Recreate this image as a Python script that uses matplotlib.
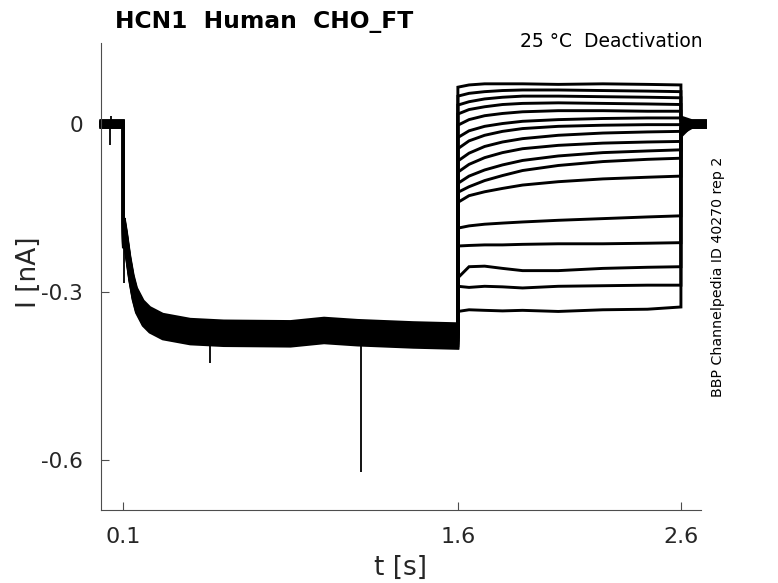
import matplotlib
matplotlib.use("Agg")
import matplotlib.pyplot as plt

# ---------------- data ----------------
title = "HCN1  Human  CHO_FT"
subtitle = "25 °C  Deactivation"
side_note = "BBP Channelpedia ID 40270 rep 2"

x_ticks = [0.1, 1.6, 2.6]
x_ticklabels = ["0.1", "1.6", "2.6"]
y_ticks = [-0.6, -0.3, 0.0]
y_ticklabels = ["-0.6", "-0.3", "0"]

# holding period (s) and per-sweep baseline offsets (nA)
hold_t = [0.0, 0.1]
hold_offset = [0.006, -0.004, 0.002, -0.006, 0.004, 0.0, -0.002, 0.005, -0.005,
               0.003, -0.003, 0.001, -0.001, 0.006, -0.006, 0.002, -0.002]

# conditioning (hyperpolarising) step, shared mean current (nA)
cond_t = [0.1, 0.1005, 0.104, 0.114, 0.129, 0.144, 0.159, 0.189, 0.219, 0.277,
          0.40, 0.55, 0.85, 1.0, 1.15, 1.4, 1.6]
cond_i = [-0.19, -0.20, -0.19, -0.215, -0.258, -0.292, -0.315, -0.338, -0.350, -0.362,
          -0.371, -0.374, -0.375, -0.369, -0.373, -0.377, -0.379]
cond_offset = [0.014, -0.008, 0.022, -0.017, 0.005, -0.022, 0.011, -0.003, 0.017,
               -0.014, 0.002, -0.020, 0.019, -0.006, 0.008, -0.011, -0.0005]

# test pulses (deactivation), one list per sweep (nA)
test_t = [1.6, 1.65, 1.72, 1.8, 1.89, 2.05, 2.25, 2.45, 2.6]
test_i = [
    [0.066, 0.070, 0.072, 0.072, 0.072, 0.071, 0.072, 0.071, 0.070],
    [0.050, 0.055, 0.058, 0.060, 0.061, 0.061, 0.060, 0.059, 0.058],
    [0.034, 0.040, 0.045, 0.048, 0.050, 0.050, 0.049, 0.048, 0.047],
    [0.018, 0.026, 0.031, 0.035, 0.037, 0.038, 0.037, 0.036, 0.035],
    [-0.002, 0.008, 0.015, 0.019, 0.022, 0.024, 0.024, 0.023, 0.023],
    [-0.024, -0.012, -0.004, 0.001, 0.005, 0.008, 0.010, 0.011, 0.011],
    [-0.044, -0.030, -0.020, -0.013, -0.008, -0.004, -0.002, -0.001, -0.001],
    [-0.066, -0.052, -0.040, -0.032, -0.026, -0.020, -0.016, -0.014, -0.013],
    [-0.086, -0.072, -0.060, -0.051, -0.044, -0.038, -0.034, -0.032, -0.031],
    [-0.106, -0.093, -0.082, -0.073, -0.065, -0.057, -0.051, -0.048, -0.046],
    [-0.122, -0.112, -0.101, -0.092, -0.083, -0.074, -0.067, -0.063, -0.061],
    [-0.140, -0.128, -0.121, -0.115, -0.109, -0.103, -0.098, -0.095, -0.093],
    [-0.186, -0.182, -0.179, -0.177, -0.175, -0.172, -0.169, -0.166, -0.164],
    [-0.218, -0.217, -0.216, -0.216, -0.215, -0.214, -0.214, -0.213, -0.212],
    [-0.275, -0.255, -0.254, -0.258, -0.262, -0.262, -0.258, -0.256, -0.255],
    [-0.290, -0.292, -0.290, -0.291, -0.293, -0.290, -0.289, -0.288, -0.288],
    [-0.335, -0.332, -0.333, -0.334, -0.333, -0.335, -0.332, -0.331, -0.327],
]

# return to holding potential
tail_t = [2.6, 2.605, 2.65, 2.71]
tail_start = [0.012, 0.010, 0.008, 0.006, 0.004, 0.002, 0.0, -0.002, -0.004,
              -0.006, -0.008, -0.010, -0.012, -0.014, -0.016, -0.018, -0.020]

# isolated artefact spikes
spike_t = [0.040, 0.044, 0.1015, 0.488, 1.165]
spike_from = [0.0, 0.0, -0.20, -0.38, -0.37]
spike_to = [-0.038, 0.014, -0.285, -0.428, -0.622]

# ---------------- figure ----------------
plt.rcParams["font.family"] = ["DejaVu Sans"]
txt = "#262626"

fig = plt.figure(figsize=(7.78, 5.83), dpi=100)
ax = fig.add_axes([101 / 778, 73 / 583, 600 / 778, 467 / 583])

for k in range(len(test_i)):
    t = (hold_t + cond_t + test_t + tail_t)
    i = ([hold_offset[k]] * len(hold_t)
         + [v + cond_offset[k] for v in cond_i]
         + test_i[k]
         + [tail_start[k], tail_start[k], hold_offset[k], hold_offset[k]])
    ax.plot(t, i, color="black", lw=2.1, solid_joinstyle="miter", clip_on=False)

ax.vlines(spike_t, spike_from, spike_to, color="black", lw=1.3)

ax.set_xlim(0.0, 2.69)
ax.set_ylim(-0.69, 0.145)
ax.set_xticks(x_ticks)
ax.set_xticklabels(x_ticklabels)
ax.set_yticks(y_ticks)
ax.set_yticklabels(y_ticklabels)

for s in ["top", "right"]:
    ax.spines[s].set_visible(False)
for s in ["left", "bottom"]:
    ax.spines[s].set_color("#4d4d4d")
    ax.spines[s].set_linewidth(0.8)
ax.tick_params(direction="in", length=6, width=0.8, color="#4d4d4d",
               labelcolor=txt, labelsize=16)
ax.tick_params(axis="x", pad=12)
ax.tick_params(axis="y", pad=13, labelsize=15.5)

ax.set_xlabel("t [s]", fontsize=19, color=txt)
ax.xaxis.set_label_coords(0.5, -0.097)
ax.set_ylabel("I [nA]", fontsize=19, color=txt)
ax.yaxis.set_label_coords(-0.098, 0.51)

fig.text(115 / 778, 1 - 28 / 583, title, fontsize=16.8, fontweight="bold",
         color="black", ha="left", va="baseline")
fig.text(703 / 778, 1 - 47 / 583, subtitle, fontsize=13.5, color="black",
         ha="right", va="baseline")
fig.text(718 / 778, 1 - 277 / 583, side_note, fontsize=10.2, color="black",
         rotation=90, ha="center", va="center")

fig.savefig("out.png", dpi=100)
